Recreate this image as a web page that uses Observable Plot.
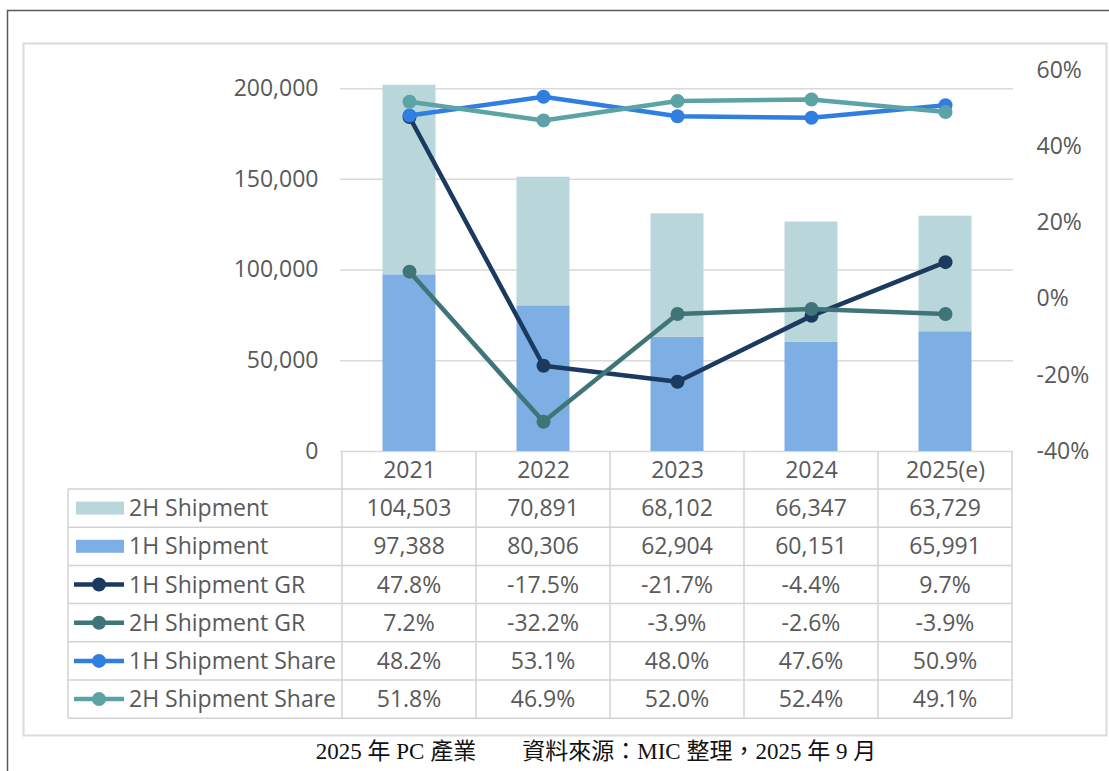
<!DOCTYPE html>
<html>
<head>
<meta charset="utf-8">
<script src="https://cdn.jsdelivr.net/npm/d3@7"></script>
<script src="https://cdn.jsdelivr.net/npm/@observablehq/plot@0.6"></script>
<style>
  html, body { margin: 0; padding: 0; background: #fff; }
  #chart { width: 1109px; height: 771px; overflow: hidden; }
</style>
</head>
<body>
<div id="chart"></div>
<script>
// ---- data ----
const years = ["2021", "2022", "2023", "2024", "2025(e)"];
const shipment2H = [104503, 70891, 68102, 66347, 63729];
const shipment1H = [97388, 80306, 62904, 60151, 65991];
const gr1H = [47.8, -17.5, -21.7, -4.4, 9.7];
const gr2H = [7.2, -32.2, -3.9, -2.6, -3.9];
const share1H = [48.2, 53.1, 48.0, 47.6, 50.9];
const share2H = [51.8, 46.9, 52.0, 52.4, 49.1];
const leftTicks = [0, 50000, 100000, 150000, 200000];
const rightTicks = [-40, -20, 0, 20, 40, 60];
const caption = "2025 年 PC 產業　　資料來源：MIC 整理，2025 年 9 月";

// ---- styles ----
const C = {
  bar2H: "#b9d6db", bar1H: "#7dafe5",
  gr1H: "#1b3a5f", gr2H: "#3f7579",
  sh1H: "#2f7ee0", sh2H: "#5ba3a5",
  text: "#595959", grid: "#d9d9d9", table: "#d3d3d3"
};
const FONT = "'Open Sans', 'Noto Sans', sans-serif";
const FS = 23;

const yMax = 210000;
const pctToY = p => (p + 40) / 100 * yMax;
const yToPct = v => Math.round(v / yMax * 100 - 40);

const barData = [];
years.forEach((y, i) => {
  barData.push({year: y, series: "1H Shipment", value: shipment1H[i]});
  barData.push({year: y, series: "2H Shipment", value: shipment2H[i]});
});

const lineSeries = [
  {name: "1H Shipment GR", vals: gr1H, color: C.gr1H},
  {name: "2H Shipment GR", vals: gr2H, color: C.gr2H},
  {name: "1H Shipment Share", vals: share1H, color: C.sh1H},
  {name: "2H Shipment Share", vals: share2H, color: C.sh2H}
];

const lineMarks = [];
for (const s of lineSeries) {
  const pts = years.map((y, i) => ({year: y, v: pctToY(s.vals[i])}));
  lineMarks.push(Plot.line(pts, {x: "year", y: "v", stroke: s.color, strokeWidth: 4.5}));
  lineMarks.push(Plot.dot(pts, {x: "year", y: "v", r: 7, fill: s.color, stroke: "none"}));
}

const plot = Plot.plot({
  width: 1109,
  height: 771,
  marginLeft: 340,
  marginRight: 96,
  marginTop: 70,
  marginBottom: 320,
  style: {fontSize: FS + "px", fontFamily: FONT, color: C.text, background: "transparent", overflow: "visible"},
  x: {domain: years, padding: 0},
  y: {domain: [0, yMax]},
  color: {domain: ["1H Shipment", "2H Shipment"], range: [C.bar1H, C.bar2H]},
  marks: [
    Plot.gridY(leftTicks, {stroke: C.grid, strokeOpacity: 1, strokeWidth: 1.5}),
    Plot.barY(barData, {x: "year", y: "value", fill: "series", order: ["1H Shipment", "2H Shipment"], insetLeft: 40.5, insetRight: 40.5}),
    Plot.axisY(leftTicks, {anchor: "left", tickSize: 0, tickPadding: 22, tickFormat: d3.format(","), label: null}),
    Plot.axisY(rightTicks.map(pctToY), {anchor: "right", tickSize: 0, tickPadding: 23, tickFormat: d => yToPct(d) + "%", label: null}),
    Plot.axisX({anchor: "bottom", tickSize: 0, tickPadding: 10, label: null}),
    ...lineMarks
  ]
});

document.getElementById("chart").appendChild(plot);

// ---- frames, table and caption built on Plot's scales ----
const svg = d3.select(plot);
const xs = plot.scale("x");
const bw = xs.bandwidth;
const colStart = years.map(y => xs.apply(y));
const xRight = colStart[colStart.length - 1] + bw;

// background frames (inserted behind marks)
const bg = svg.insert("g", ":first-child");
bg.append("rect").attr("x", 0).attr("y", 0).attr("width", 1109).attr("height", 771).attr("fill", "#fff");
bg.append("rect").attr("x", 7.5).attr("y", 10.5).attr("width", 1120).attr("height", 800)
  .attr("fill", "#fff").attr("stroke", "#5a5a5a").attr("stroke-width", 1.5);
bg.append("rect").attr("x", 23.5).attr("y", 43.5).attr("width", 1083).attr("height", 692)
  .attr("fill", "#fff").attr("stroke", "#dadada").attr("stroke-width", 2);

const tbl = svg.append("g").attr("font-family", FONT).attr("font-size", FS).attr("fill", C.text);
const rowTop = 489, rowH = 38.2, tableLeft = 68;
const y0 = 451;
const rows = [
  {name: "2H Shipment", type: "bar", color: C.bar2H, vals: shipment2H.map(d3.format(","))},
  {name: "1H Shipment", type: "bar", color: C.bar1H, vals: shipment1H.map(d3.format(","))},
  ...lineSeries.map(s => ({name: s.name, type: "line", color: s.color, vals: s.vals.map(v => v.toFixed(1) + "%")}))
];
const nRows = rows.length;
for (let i = 0; i <= nRows; i++) {
  const yy = rowTop + i * rowH;
  tbl.append("line").attr("x1", tableLeft).attr("x2", xRight).attr("y1", yy).attr("y2", yy)
    .attr("stroke", C.table).attr("stroke-width", 1.5);
}
tbl.append("line").attr("x1", tableLeft).attr("x2", tableLeft).attr("y1", rowTop).attr("y2", rowTop + nRows * rowH)
  .attr("stroke", C.table).attr("stroke-width", 1.5);
[...colStart, xRight].forEach(xx => {
  tbl.append("line").attr("x1", xx).attr("x2", xx).attr("y1", y0).attr("y2", rowTop + nRows * rowH)
    .attr("stroke", C.table).attr("stroke-width", 1.5);
});
rows.forEach((r, i) => {
  const cy = rowTop + i * rowH + rowH / 2;
  if (r.type === "bar") {
    tbl.append("rect").attr("x", 76).attr("y", cy - 6.5).attr("width", 48).attr("height", 13).attr("fill", r.color);
  } else {
    tbl.append("line").attr("x1", 74).attr("x2", 124).attr("y1", cy).attr("y2", cy)
      .attr("stroke", r.color).attr("stroke-width", 4.5);
    tbl.append("circle").attr("cx", 99).attr("cy", cy).attr("r", 7).attr("fill", r.color);
  }
  tbl.append("text").attr("x", 129).attr("y", cy).attr("dy", "0.35em").attr("text-anchor", "start").text(r.name);
  r.vals.forEach((v, j) => {
    tbl.append("text").attr("x", colStart[j] + bw / 2).attr("y", cy).attr("dy", "0.35em")
      .attr("text-anchor", "middle").text(v);
  });
});

// caption
svg.append("rect").attr("x", 268).attr("y", 737).attr("width", 640).attr("height", 40).attr("fill", "#fff");
svg.append("text").attr("x", 596).attr("y", 751).attr("dy", "0.35em").attr("text-anchor", "middle")
  .attr("font-family", "'Liberation Serif', 'DejaVu Serif', 'Noto Sans CJK TC', serif")
  .attr("font-size", 23).attr("fill", "#111").text(caption);
</script>
</body>
</html>
